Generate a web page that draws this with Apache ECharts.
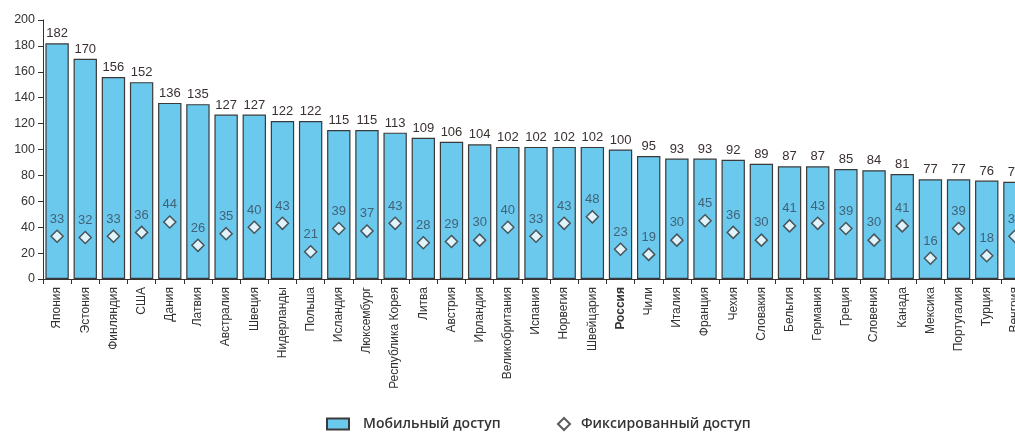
<!DOCTYPE html>
<html>
<head>
<meta charset="utf-8">
<script src="https://cdn.jsdelivr.net/npm/echarts@6/dist/echarts.min.js"></script>
<style>
  html, body { margin: 0; padding: 0; background: #fff; overflow: hidden; }
  /* шире окна: последняя страна обрезается краем, как в оригинале */
  #chart { width: 1029px; height: 435px; }
</style>
</head>
<body>
<div id="chart"></div>
<script>
// страны (последняя частично обрезана краем картинки)
const countries = [
  'Япония', 'Эстония', 'Финляндия', 'США', 'Дания', 'Латвия', 'Австралия', 'Швеция',
  'Нидерланды', 'Польша', 'Исландия', 'Люксембург', 'Республика Корея', 'Литва', 'Австрия',
  'Ирландия', 'Великобритания', 'Испания', 'Норвегия', 'Швейцария', 'Россия', 'Чили',
  'Италия', 'Франция', 'Чехия', 'Словакия', 'Бельгия', 'Германия', 'Греция', 'Словения',
  'Канада', 'Мексика', 'Португалия', 'Турция', 'Венгрия'
];

const mobileAccess = [
  182, 170, 156, 152, 136, 135, 127, 127, 122, 122, 115, 115, 113, 109, 106,
  104, 102, 102, 102, 102, 100, 95, 93, 93, 92, 89, 87, 87, 85, 84,
  81, 77, 77, 76, 75
];

const fixedAccess = [
  33, 32, 33, 36, 44, 26, 35, 40, 43, 21, 39, 37, 43, 28, 29,
  30, 40, 33, 43, 48, 23, 19, 30, 45, 36, 30, 41, 43, 39, 30,
  41, 16, 39, 18, 33
];

const highlight = 'Россия';

const legendText = {
  color: '#333', fontSize: 14, fontWeight: 600,
  fontFamily: 'Open Sans, DejaVu Sans Condensed, sans-serif'
};

const el = document.getElementById('chart');
const chart = echarts.init(el);
chart.setOption({
  backgroundColor: '#fff',
  animation: false,
  textStyle: { fontFamily: 'Liberation Sans, Arial, sans-serif' },
  grid: { left: 43, right: 0, top: 20, bottom: 156 },
  legend: [
    {
      top: 417, left: 326, padding: 0, itemWidth: 22, itemHeight: 11, itemGap: 14,
      textStyle: Object.assign({ padding: [0, 0, 0, 9] }, legendText),
      data: [{ name: 'Мобильный доступ', icon: 'rect' }]
    },
    {
      top: 417, left: 557, padding: 0, itemWidth: 12, itemHeight: 12, itemGap: 10,
      textStyle: Object.assign({ padding: [0, 0, 0, 6] }, legendText),
      data: [{ name: 'Фиксированный доступ', icon: 'diamond' }]
    }
  ],
  xAxis: {
    type: 'category',
    data: countries.map(c => c === highlight ? { value: c, textStyle: { fontWeight: 'bold' } } : c),
    axisLine: { lineStyle: { color: '#333', width: 1 } },
    axisTick: { show: true, length: 5, lineStyle: { color: '#333' } },
    axisLabel: { rotate: 90, interval: 0, color: '#333', fontSize: 12, margin: 8 }
  },
  yAxis: {
    type: 'value',
    min: 0,
    max: 200,
    interval: 20,
    axisLine: { show: true, lineStyle: { color: '#333', width: 1 } },
    axisTick: { show: true, length: 5, lineStyle: { color: '#333' } },
    axisLabel: { color: '#333', fontSize: 12.5, margin: 8 },
    splitLine: { show: false }
  },
  series: [
    {
      name: 'Мобильный доступ',
      type: 'bar',
      data: mobileAccess,
      barCategoryGap: '17%',
      itemStyle: { color: '#6cc9ee', borderColor: '#3a3a3a', borderWidth: 1.2 },
      label: { show: true, position: 'top', distance: 3, color: '#3a3030', fontSize: 13 }
    },
    {
      name: 'Фиксированный доступ',
      type: 'scatter',
      data: fixedAccess,
      symbol: 'diamond',
      symbolSize: [12, 12],
      itemStyle: { color: '#fff', borderColor: '#333', borderWidth: 1.5 },
      label: { show: true, position: 'top', distance: 4, color: '#34495a', fontSize: 13 },
      z: 3
    }
  ]
});

window.addEventListener('resize', () => chart.resize());
</script>
</body>
</html>
